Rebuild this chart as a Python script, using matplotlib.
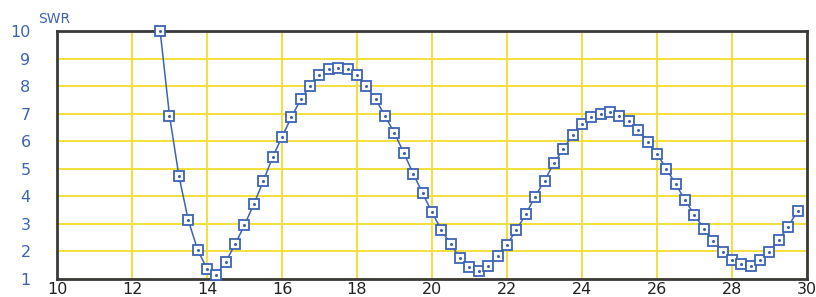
import numpy as np
import matplotlib
matplotlib.use("Agg")
import matplotlib.pyplot as plt

freq = [12.75, 13.0, 13.25, 13.5, 13.75, 14.0, 14.25, 14.5, 14.75, 15.0,
        15.25, 15.5, 15.75, 16.0, 16.25, 16.5, 16.75, 17.0, 17.25, 17.5,
        17.75, 18.0, 18.25, 18.5, 18.75, 19.0, 19.25, 19.5, 19.75, 20.0,
        20.25, 20.5, 20.75, 21.0, 21.25, 21.5, 21.75, 22.0, 22.25, 22.5,
        22.75, 23.0, 23.25, 23.5, 23.75, 24.0, 24.25, 24.5, 24.75, 25.0,
        25.25, 25.5, 25.75, 26.0, 26.25, 26.5, 26.75, 27.0, 27.25, 27.5,
        27.75, 28.0, 28.25, 28.5, 28.75, 29.0, 29.25, 29.5, 29.75]
swr = [10.0, 6.93, 4.75, 3.14, 2.06, 1.37, 1.16, 1.62, 2.26, 2.96,
       3.72, 4.55, 5.42, 6.16, 6.87, 7.52, 8.01, 8.40, 8.61, 8.67,
       8.61, 8.41, 8.00, 7.52, 6.91, 6.29, 5.57, 4.82, 4.11, 3.42,
       2.78, 2.26, 1.75, 1.44, 1.30, 1.48, 1.83, 2.25, 2.78, 3.35,
       3.99, 4.57, 5.20, 5.71, 6.23, 6.61, 6.87, 7.00, 7.06, 6.93,
       6.74, 6.42, 5.96, 5.54, 5.00, 4.44, 3.86, 3.32, 2.83, 2.39,
       1.99, 1.68, 1.54, 1.48, 1.68, 1.99, 2.42, 2.90, 3.48]
x_ticks = [10, 12, 14, 16, 18, 20, 22, 24, 26, 28, 30]
y_ticks = [1, 2, 3, 4, 5, 6, 7, 8, 9, 10]

blue = "#3c63b4"
fig = plt.figure(figsize=(8.16, 2.97), dpi=100)
ax = fig.add_axes([57/816, 1-279/297, 750/816, 248/297])
ax.set_xlim(10, 30)
ax.set_ylim(1, 10)
ax.set_xticks(x_ticks)
ax.set_yticks(y_ticks)
ax.set_xticklabels([str(t) for t in x_ticks])
ax.set_yticklabels([str(t) for t in y_ticks])
ax.grid(True, color="#f3df3a", linewidth=1.4, zorder=0)
ax.set_axisbelow(True)
ax.plot(freq, swr, color=blue, linewidth=1.1, marker="s", markersize=6.5,
        markerfacecolor="white", markeredgecolor=blue, markeredgewidth=1.3,
        zorder=3, clip_on=False)
ax.plot(freq, swr, linestyle="none", marker="o", markersize=1.2,
        color=blue, zorder=4, clip_on=False)
for s in ax.spines.values():
    s.set_color("#3a3a3a")
    s.set_linewidth(2.0)
ax.tick_params(axis="x", length=0, pad=2, labelsize=11.5, labelcolor="#222222")
ax.tick_params(axis="y", length=0, pad=19, labelsize=11.5, labelcolor=blue)
fig.text(38/816, 1-19/297, "SWR", color=blue, fontsize=10, va="center", ha="left")
fig.savefig("out.png", dpi=100)
